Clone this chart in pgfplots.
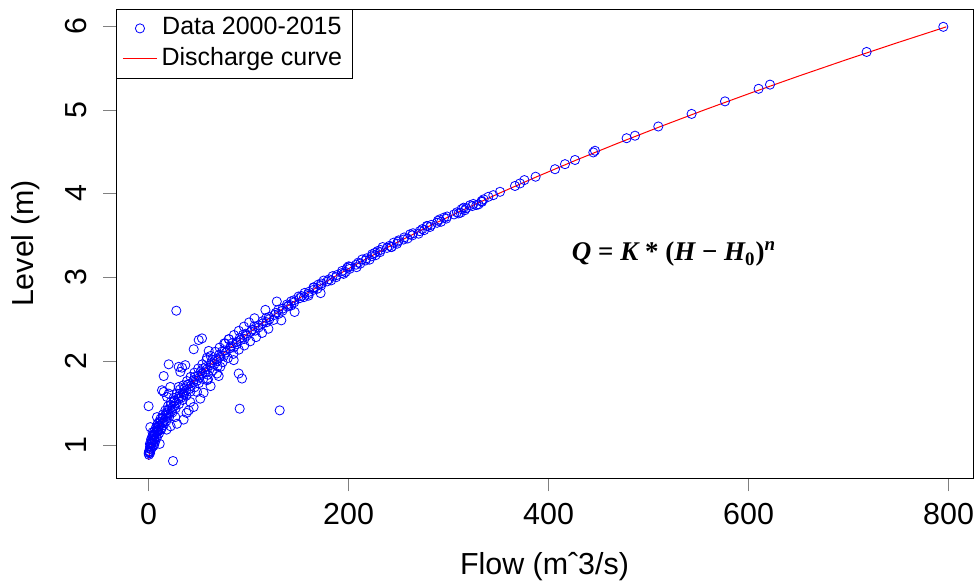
\documentclass[border=0pt]{standalone}
\usepackage{fontspec}
\setmainfont{Liberation Sans}
\newfontfamily\eqfont{Liberation Serif}
\usepackage{pgfplots}
\pgfplotsset{compat=1.18}

\begin{document}
\fontsize{15.2}{18}\selectfont
\begin{tikzpicture}
\useasboundingbox (0pt,0pt) rectangle (487.5pt,291.5pt);
\begin{axis}[
  at={(58pt,52.35pt)}, anchor=south west,
  scale only axis, width=428.5pt, height=234.65pt,
  xmin=-32.6, xmax=824.4, ymin=0.599, ymax=6.203,
  xtick={0,200,400,600,800}, ytick={1,2,3,4,5,6},
  xticklabels={0,200,400,600,800}, yticklabels={1,2,3,4,5,6},
  xtick pos=left, ytick pos=left,
  tick align=outside, major tick length=6.5pt,
  xticklabel style={inner xsep=0pt, inner ysep=6pt},
  yticklabel style={rotate=90, anchor=south, inner xsep=0pt, inner ysep=8pt},
  legend style={at={(0,1)}, anchor=north west, draw=black},
]
\addplot[only marks, mark=o, mark size=2.3pt, blue] coordinates {
(794.7,5.99) (718,5.69) (621.4,5.30) (610,5.25) (576.4,5.10) (543,4.95) (509.7,4.80) (486.4,4.69) (478,4.66) (446.4,4.51) (444.7,4.49) (426.4,4.40) (416.4,4.35) (406.4,4.29) (387,4.20) (375.8,4.16) (371.4,4.12) (366.4,4.09) (351.4,4.02) (344.7,3.98) (339.7,3.96) (333,3.91) (321.4,3.86)
(1.5,0.900) (0.8,0.925) (2.4,0.950) (1.5,0.975) (5.6,1.000) (3.3,1.025) (5.5,1.050) (2.9,1.075) (7.7,1.100) (5.1,1.125) (8.6,1.150) (8.1,1.175) (12.6,1.200) (10.8,1.225) (13.4,1.250) (11.1,1.275) (16.3,1.300) (14.1,1.325) (17.9,1.350) (17.8,1.375) (22.7,1.400) (21.2,1.425) (24.2,1.450) (22.2,1.475) (27.8,1.500) (25.9,1.525) (30.1,1.550) (30.3,1.575) (35.5,1.600) (34.3,1.625) (37.6,1.650) (36.0,1.675) (41.9,1.700) (40.3,1.725) (44.8,1.750) (45.3,1.775) (50.8,1.800) (49.9,1.825) (53.5,1.850) (52.1,1.875) (58.3,1.900) (57.0,1.925) (61.8,1.950) (62.6,1.975) (68.4,2.000) (67.8,2.025) (71.7,2.050) (70.7,2.075) (77.2,2.100) (76.1,2.125) (81.1,2.150) (82.1,2.175) (88.2,2.200) (87.8,2.225) (92.0,2.250) (91.2,2.275) (97.9,2.300) (97.1,2.325) (102.4,2.350) (103.7,2.375) (110.0,2.400) (109.9,2.425) (114.3,2.450) (113.8,2.475) (120.8,2.500) (120.3,2.525) (125.8,2.550) (127.3,2.575) (133.9,2.600) (134.0,2.625) (138.7,2.650) (138.4,2.675) (145.6,2.700) (145.4,2.725) (151.2,2.750) (153.0,2.775) (159.8,2.800) (160.2,2.825) (165.1,2.850) (165.0,2.875) (172.5,2.900) (172.5,2.925) (178.5,2.950) (180.5,2.975) (187.5,3.000) (188.1,3.025) (193.3,3.050) (193.4,3.075) (201.1,3.100) (201.3,3.125) (207.5,3.150) (209.7,3.175) (217.0,3.200) (217.8,3.225) (223.2,3.250) (223.6,3.275) (231.5,3.300) (231.9,3.325) (238.4,3.350) (240.9,3.375) (248.4,3.400) (249.4,3.425) (255.0,3.450) (255.6,3.475) (263.8,3.500) (264.4,3.525) (271.1,3.550) (273.7,3.575) (281.4,3.600) (282.7,3.625) (288.5,3.650) (289.3,3.675) (297.7,3.700) (298.5,3.725) (305.4,3.750) (308.3,3.775) (316.2,3.800) (317.7,3.825) (323.7,3.850) (324.7,3.875) (333.3,3.900)
(0.6,0.9125) (3.2,0.9625) (2.5,1.0125) (6.0,1.0625) (5.6,1.1125) (9.8,1.1625) (9.4,1.2125) (14.5,1.2625) (13.8,1.3125) (19.9,1.3625) (19.0,1.4125) (26.0,1.4625) (24.9,1.5125) (32.8,1.5625) (31.4,1.6125) (40.2,1.6625) (38.6,1.7125) (48.2,1.7625) (46.4,1.8125) (56.7,1.8625) (54.8,1.9125) (65.8,1.9625) (63.8,2.0125) (75.4,2.0625) (73.5,2.1125) (85.3,2.1625) (83.6,2.2125) (95.8,2.2625) (94.4,2.3125) (106.8,2.3625) (105.6,2.4125) (118.1,2.4625) (117.6,2.5125) (130.0,2.5625) (129.8,2.6125) (142.6,2.6625) (142.6,2.7125) (155.4,2.7625) (156.0,2.8125) (168.8,2.8625) (169.8,2.9125) (182.6,2.9625) (184.0,3.0125) (197.0,3.0625) (198.6,3.1125) (211.7,3.1625) (213.6,3.2125) (227.0,3.2625) (229.0,3.3125) (242.8,3.3625) (245.0,3.4125) (259.0,3.4625) (261.5,3.5125) (275.6,3.5625) (278.2,3.6125) (292.5,3.6625) (295.5,3.7125) (310.0,3.7625) (313.0,3.8125) (327.8,3.8625)
(1.3,1.01) (2.6,1.06) (4.1,1.11) (5.8,1.16) (7.6,1.21) (9.7,1.26) (11.9,1.31) (14.2,1.36) (16.7,1.41) (19.4,1.46) (22.2,1.51) (25.1,1.56) (28.2,1.61) (31.4,1.66) (34.8,1.71) (38.4,1.76) (42.0,1.81) (45.8,1.86) (49.6,1.91) (53.7,1.96) (57.8,2.01) (62.1,2.06) (66.6,2.11) (71.0,2.16) (75.6,2.21) (80.4,2.26) (85.3,2.31) (90.2,2.36) (95.3,2.41) (100.5,2.46) (105.9,2.51) (116.8,2.61) (128.2,2.71)
(4.9,0.985) (6.5,1.035) (8.3,1.085) (10.4,1.135) (12.7,1.185) (15.1,1.235) (17.8,1.285) (20.7,1.335) (23.8,1.385) (27.0,1.435) (30.4,1.485) (34.1,1.535) (37.8,1.585) (41.8,1.635) (45.9,1.685) (50.2,1.735) (54.6,1.785) (59.3,1.835) (64.0,1.885) (68.9,1.935) (74.0,1.985) (79.3,2.035) (84.8,2.085) (90.2,2.135) (95.7,2.185) (101.6,2.235) (107.5,2.285) (113.6,2.335) (119.8,2.385) (132.7,2.485) (146.0,2.585)
(175,2.96) (195,3.04) (200,3.13) (221,3.21) (226,3.29) (243,3.36) (250,3.44) (270,3.52) (279,3.61) (291,3.69) (312,3.77) (315,3.83) (330,3.87) (335,3.93) (234,3.36) (208,3.12) (160,2.78) (150,2.77) (140,2.66) (165,2.88)
(27.7,2.60) (53.4,2.27) (50.1,2.25) (45.1,2.14) (60.1,2.12) (58.4,2.04) (80.1,2.26) (76.7,2.21) (85.1,2.01) (20.1,1.96) (36.7,1.95) (33.4,1.92) (30.1,1.93) (31.7,1.87) (15.1,1.82) (30.1,1.69) (15.1,1.63) (20.1,1.61) (18.4,1.57) (0,1.46) (1.7,1.21) (11.1,1.01) (24.4,0.805) (0.1,0.90) (90.1,1.85) (93.4,1.79) (91.1,1.43) (131.1,1.41) (70.1,1.82) (59.4,1.78) (51.7,1.55) (40.1,1.41) (28.4,1.25) (26.7,1.33) (8.4,1.33) (71.7,1.93) (48.4,1.63) (58.4,1.77) (41.7,1.51) (21.7,1.69) (13.4,1.65) (35.1,1.61) (68.4,1.85) (172,2.81) (125,2.49) (38,1.38) (45,1.45) (35,1.30) (22,1.22) (18,1.18) (55,1.62) (62,1.70)
(0.5,0.92) (1.2,0.95) (2.0,0.98) (0.3,0.88) (3.5,1.05) (5.0,1.10) (2.8,1.03) (6.5,1.12) (4.0,1.15) (7.5,1.20) (9.0,1.25) (8.5,1.17)
};
\addlegendentry{\fontsize{12.5}{15}\selectfont Data 2000-2015}
\addplot[red, line width=0.5pt, no marks] coordinates {
(0.06,0.82) (0.29,0.85) (0.96,0.90) (1.91,0.95) (3.12,1.00) (6.22,1.10) (10.14,1.20) (14.84,1.30) (20.24,1.40) (26.31,1.50) (33.03,1.60) (40.37,1.70) (48.3,1.80) (56.81,1.90) (65.89,2.00) (75.7,2.10) (85.67,2.20) (96.4,2.30) (107.5,2.40) (119.3,2.50) (131.4,2.60) (144.1,2.70) (157.3,2.80) (171.0,2.90) (185.0,3.00) (214.5,3.20) (245.9,3.40) (278.9,3.60) (313.7,3.80) (350.1,4.00) (388.2,4.20) (427.9,4.40) (469.2,4.60) (512.0,4.80) (556.3,5.00) (602.2,5.20) (649.6,5.40) (698.4,5.60) (748.7,5.80) (797.7,5.99)
};
\addlegendentry{\fontsize{12.5}{15}\selectfont Discharge curve}
\end{axis}
\node[anchor=base, inner sep=0pt] at (272.25pt,4pt) {Flow (mˆ3/s)};
\node[rotate=90, anchor=base, inner sep=0pt] at (16.65pt,169.7pt) {Level (m)};
\node[anchor=center, inner sep=0pt] at (337pt,164.5pt) {\eqfont\fontsize{13.5}{16}\selectfont\bfseries\itshape Q \upshape= \itshape K \upshape* (\itshape H \upshape− \itshape H\textsubscript{\upshape 0}\upshape)\textsuperscript{\itshape n}};
\end{tikzpicture}
\end{document}
